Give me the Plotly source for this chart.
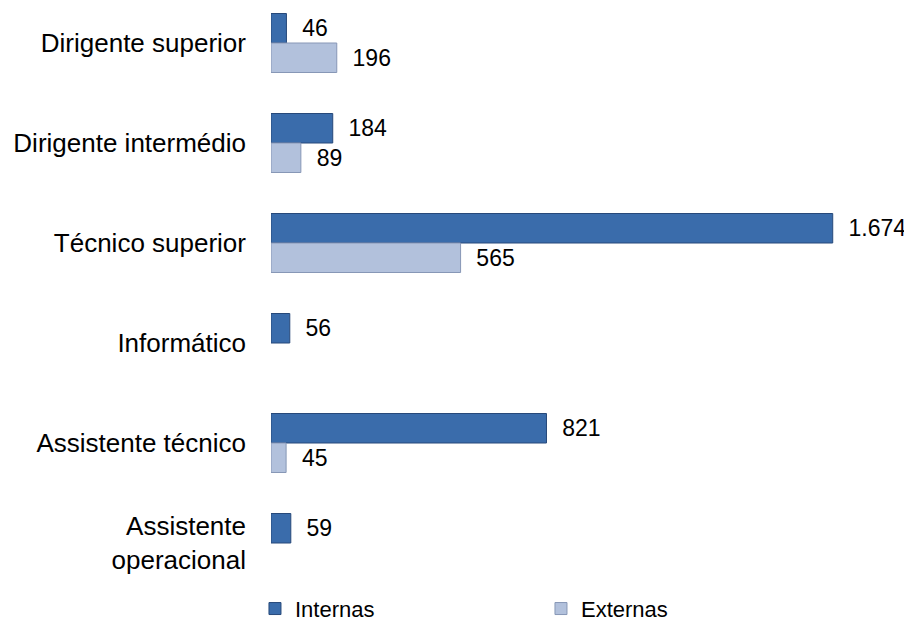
import plotly.graph_objects as go

categories = ["Dirigente superior", "Dirigente intermédio", "Técnico superior",
              "Informático", "Assistente técnico", "Assistente<br>operacional"]
internas = [46, 184, 1674, 56, 821, 59]
externas = [196, 89, 565, None, 45, None]

FONT = "Liberation Sans, Arial, sans-serif"

fig = go.Figure()
fig.add_trace(go.Bar(
    name="Internas", y=categories, x=internas, orientation="h",
    marker=dict(color="#3A6CAB", line=dict(color="#27497A", width=1)),
    texttemplate="\u00a0\u00a0%{x:,}", textposition="outside",
    textfont=dict(size=23, color="#000000", family=FONT),
    cliponaxis=False, constraintext="none",
))
fig.add_trace(go.Bar(
    name="Externas", y=categories, x=externas, orientation="h",
    marker=dict(color="#B2C1DC", line=dict(color="#8797B6", width=1)),
    texttemplate="\u00a0\u00a0%{x:,}", textposition="outside",
    textfont=dict(size=23, color="#000000", family=FONT),
    cliponaxis=False, constraintext="none",
))

fig.update_layout(
    width=904, height=613,
    margin=dict(l=263, r=37, t=0, b=46, autoexpand=False),
    paper_bgcolor="white", plot_bgcolor="white",
    barmode="group", bargap=0.41, bargroupgap=0,
    separators=",.",
    font=dict(family=FONT, color="#000000"),
    showlegend=True,
    legend=dict(orientation="h", xref="container", yref="container",
                x=0.2732, y=0.02, xanchor="left", yanchor="middle",
                font=dict(size=22, family=FONT), entrywidth=241,
                traceorder="normal", itemclick=False),
    xaxis=dict(range=[0, 1800], visible=False, showgrid=False, zeroline=False,
               automargin=False),
    yaxis=dict(type="category", range=[5.32, -0.35], showgrid=False,
               zeroline=False, showline=False, ticks="", automargin=False,
               ticklabelstandoff=24,
               tickfont=dict(size=26, family=FONT, color="#000000")),
)

fig.write_html("out.html")
